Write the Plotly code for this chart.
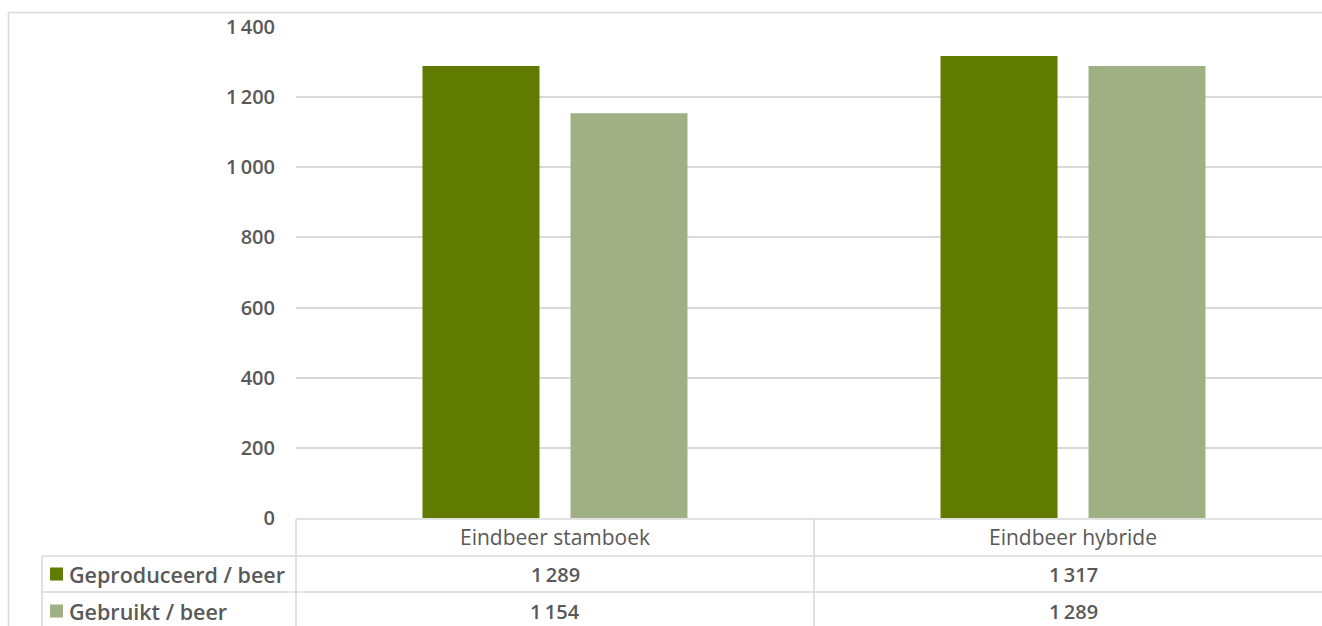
import plotly.graph_objects as go

# ---- data ----
categories = ["Eindbeer stamboek", "Eindbeer hybride"]
series_names = ["Geproduceerd / beer", "Gebruikt / beer"]
geproduceerd = [1289, 1317]
gebruikt = [1154, 1289]
series_values = [geproduceerd, gebruikt]
series_colors = ["#617A00", "#A1AF85"]
y_ticks = [0, 200, 400, 600, 800, 1000, 1200, 1400]

TEXT = "#595959"
GRID = "#D9D9D9"
FONT = "Open Sans"
NB = "\u2009"  # thin space used as thousands separator


def fmt(v):
    return f"{v:,}".replace(",", NB)


# ---- layout geometry (pixels) ----
W_FIG, H_FIG = 1322, 626
L, R, T, B = 296, 0, 27, 108
PW = W_FIG - L - R
PH = H_FIG - T - B
CAT_PX = 518.0


def px_x(p):
    return (p - L) / PW


def px_y(p):
    return (H_FIG - B - p) / PH


fig = go.Figure()
for name, vals, col in zip(series_names, series_values, series_colors):
    fig.add_trace(go.Bar(
        x=list(range(len(categories))), y=vals, name=name,
        marker=dict(color=col, line=dict(width=0)),
        hoverinfo="y+name",
    ))

shapes = []
line = dict(color=GRID, width=1.6)
# outer chart border (left/top)
shapes.append(dict(type="line", xref="paper", yref="paper",
                   x0=px_x(8.5), x1=px_x(1400), y0=px_y(12.5), y1=px_y(12.5), line=line))
shapes.append(dict(type="line", xref="paper", yref="paper",
                   x0=px_x(8.5), x1=px_x(8.5), y0=px_y(12.5), y1=px_y(700), line=line))
# data table grid
shapes.append(dict(type="line", xref="paper", yref="paper",
                   x0=px_x(296), x1=px_x(1400), y0=px_y(519), y1=px_y(519), line=line))
for yy in (556, 592):
    shapes.append(dict(type="line", xref="paper", yref="paper",
                       x0=px_x(42), x1=px_x(1400), y0=px_y(yy), y1=px_y(yy), line=line))
shapes.append(dict(type="line", xref="paper", yref="paper",
                   x0=px_x(296), x1=px_x(296), y0=px_y(519), y1=px_y(700), line=line))
shapes.append(dict(type="line", xref="paper", yref="paper",
                   x0=px_x(42), x1=px_x(42), y0=px_y(556), y1=px_y(700), line=line))
for i in range(len(categories) - 1):
    shapes.append(dict(type="line", xref="x", yref="paper",
                       x0=i + 0.5, x1=i + 0.5, y0=px_y(519), y1=px_y(700), line=line))

# legend keys in table
row_centers = [574, 611]
for rc, col in zip(row_centers, series_colors):
    shapes.append(dict(type="rect", xref="paper", yref="paper",
                       x0=px_x(50), x1=px_x(63), y0=px_y(rc - 6.5), y1=px_y(rc + 6.5),
                       fillcolor=col, line=dict(width=0)))

annotations = []
for i, c in enumerate(categories):
    annotations.append(dict(x=i, xref="x", y=px_y(537), yref="paper", text=c,
                            showarrow=False, xanchor="center", yanchor="middle",
                            font=dict(family=FONT, size=21, color=TEXT, weight=500)))
for rc, name, vals in zip(row_centers, series_names, series_values):
    annotations.append(dict(x=px_x(67), xref="paper", y=px_y(rc), yref="paper", text=name,
                            showarrow=False, xanchor="left", yanchor="middle",
                            font=dict(family=FONT, size=21.5, color=TEXT, weight=600)))
    for i, v in enumerate(vals):
        annotations.append(dict(x=i, xref="x", y=px_y(rc), yref="paper", text=fmt(v),
                                showarrow=False, xanchor="center", yanchor="middle",
                                font=dict(family=FONT, size=20, color=TEXT, weight=600)))

fig.update_layout(
    width=W_FIG, height=H_FIG,
    margin=dict(l=L, r=R, t=T, b=B, pad=0),
    paper_bgcolor="white", plot_bgcolor="white",
    barmode="group", bargap=0.4286, bargroupgap=0.2095,
    showlegend=False,
    shapes=shapes, annotations=annotations,
    xaxis=dict(range=[-0.5, -0.5 + PW / CAT_PX], showticklabels=False,
               showgrid=False, zeroline=False, showline=False, ticks=""),
    yaxis=dict(range=[0, 1400], tickvals=y_ticks, ticktext=[fmt(v) for v in y_ticks],
               showgrid=True, gridcolor=GRID, gridwidth=1.6, zeroline=False,
               showline=False, ticks="", ticklabelstandoff=20,
               tickfont=dict(family=FONT, size=20, color=TEXT, weight=600)),
)

fig.write_html("out.html")
